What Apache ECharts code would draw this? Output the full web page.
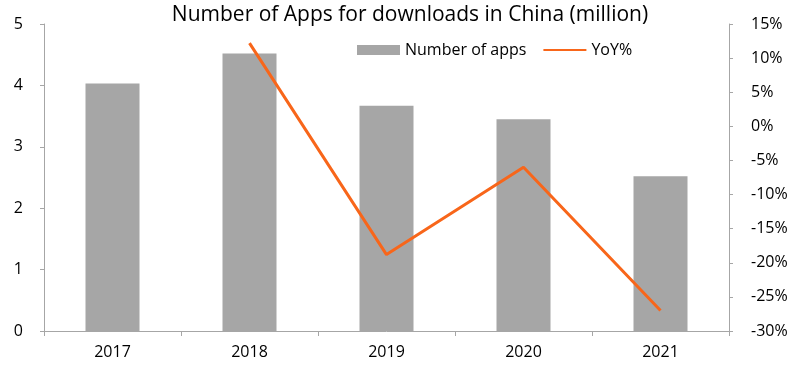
<!DOCTYPE html>
<html><head><meta charset="utf-8">
<script src="https://cdn.jsdelivr.net/npm/echarts@6/dist/echarts.min.js"></script>
<style>html,body{margin:0;padding:0;background:#fff}#c{width:800px;height:367px}</style>
</head><body><div id="c"></div>
<script>
var categories = ['2017','2018','2019','2020','2021'];
var apps = [4.03, 4.52, 3.67, 3.45, 2.52];
var yoy = [null, 12.2, -18.8, -6.0, -27.0];
var leftTicks = {min:0, max:5, interval:1};
var rightTicks = {min:-30, max:15, interval:5};

var font = '"Open Sans", sans-serif';
var axisColor = '#a6a6a6';
var orange = '#f8661a';
var chart = echarts.init(document.getElementById('c'));
chart.setOption({
  animation:false,
  title:{text:'Number of Apps for downloads in China (million)', left:410, textAlign:'center', top:5, padding:0,
    textStyle:{fontFamily:font, fontSize:21, fontWeight:'normal', color:'#000'}},
  legend:{left:352, top:37, itemGap:16, itemWidth:43, itemHeight:10,
    textStyle:{fontFamily:font, fontSize:16, color:'#000'},
    data:[{name:'Number of apps', icon:'rect'}, {name:'YoY%', itemStyle:{opacity:0}}]},
  grid:{left:44, right:71, top:24, bottom:36},
  xAxis:{type:'category', data:categories,
    axisLine:{lineStyle:{color:axisColor}}, axisTick:{show:true, length:5, lineStyle:{color:axisColor}},
    axisLabel:{fontFamily:font, fontSize:16, color:'#000', margin:13}},
  yAxis:[
    {type:'value', min:leftTicks.min, max:leftTicks.max, interval:leftTicks.interval,
     axisLine:{show:true, lineStyle:{color:axisColor}}, axisTick:{show:true, length:4, lineStyle:{color:axisColor}},
     splitLine:{show:false}, axisLabel:{fontFamily:font, fontSize:16, color:'#000', margin:21}},
    {type:'value', min:rightTicks.min, max:rightTicks.max, interval:rightTicks.interval, position:'right',
     axisLine:{show:true, lineStyle:{color:axisColor}}, axisTick:{show:true, length:4, lineStyle:{color:axisColor}},
     splitLine:{show:false}, axisLabel:{fontFamily:font, fontSize:16, color:'#000', margin:22, formatter:'{value}%'}}
  ],
  series:[
    {name:'Number of apps', type:'bar', data:apps, barWidth:54, itemStyle:{color:'#a6a6a6'}},
    {name:'YoY%', type:'line', yAxisIndex:1, data:yoy, symbol:'none', connectNulls:false,
     lineStyle:{color:orange, width:3}, itemStyle:{color:orange}}
  ]
});
</script></body></html>
